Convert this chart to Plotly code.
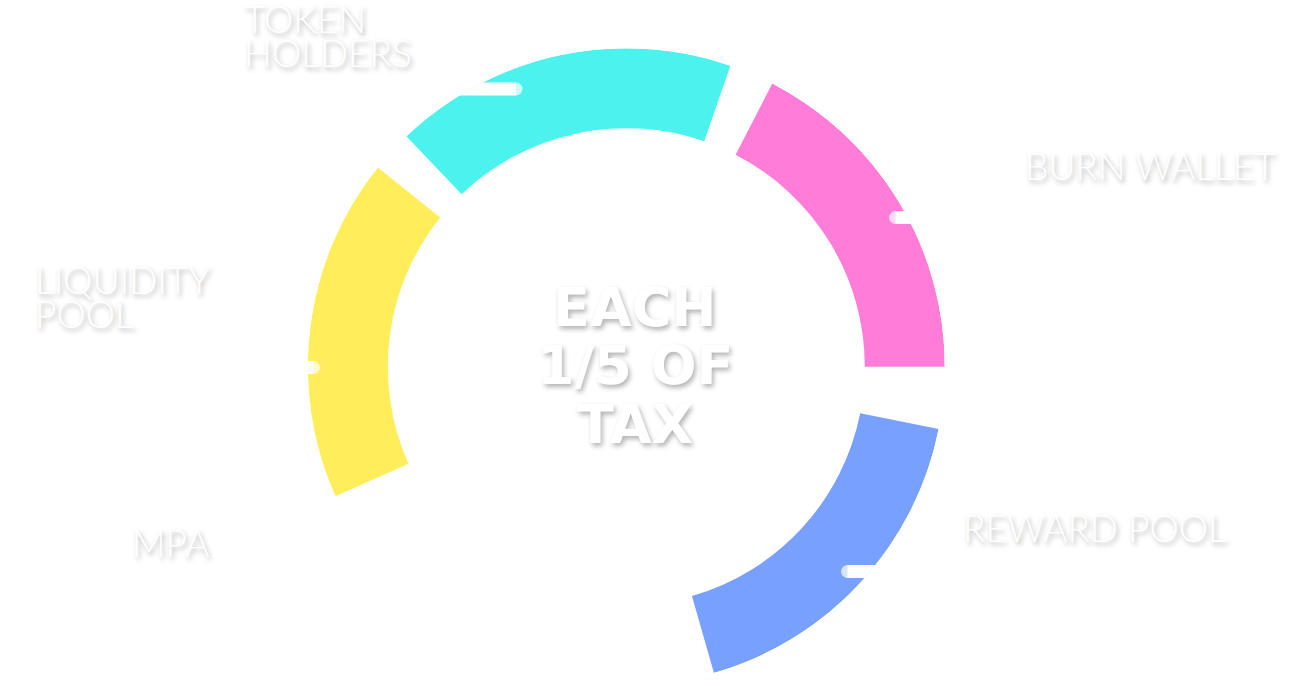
import math
import plotly.graph_objects as go

# ---------------- data ----------------
categories = ["BURN WALLET", "TOKEN HOLDERS", "LIQUIDITY POOL", "MPA", "REWARD POOL"]
shares = [20, 20, 20, 20, 20]          # each 1/5 of the tax (percent)
center_lines = ["EACH", "1/5 OF", "TAX"]

# label text split in lines as drawn
label_lines = [["BURN WALLET"], ["TOKEN", "HOLDERS"], ["LIQUIDITY", "POOL"], ["MPA"], ["REWARD POOL"]]

# ---------------- style / layout ----------------
colors = ["#FF7DD9", "#4CF3EE", "#FFEE59", "#FFFFFF", "#78A0FF"]
seg_center_deg = [31.35, 102.3, 172.65, 245.0, 317.35]
GAP_DEG = 9.25
W, H = 1292, 686
CX, CY = 626.3, 366.7          # donut centre in pixels (from top-left)
R_OUT, R_IN = 318.5, 238.5

# label anchors: left x (px), first-line cap centre y (px)
label_pos = [(1023, 165.5), (242, 18.5), (33, 279.0), (130, 542.0), (961, 527.5)]
LINE_PITCH = 34
# leader tick: cap centre y (px), cap centre x (px), direction outward (+1 right, -1 left)
ticks = [(217.5, 895.5, 1), (89.0, 516.0, -1), (367.5, 313.5, -1), (571.5, 847.5, 1)]

LABEL_FONT = "Lato"
CENTER_FONT = "DejaVu Sans"
SHADOW = "2px 3px 5px rgba(0,0,0,0.30)"

fig = go.Figure()

# ring segments
widths = [s / 100 * 360 - GAP_DEG for s in shares]
fig.add_trace(go.Barpolar(
    r=[R_OUT - R_IN] * len(shares),
    base=[R_IN] * len(shares),
    theta=seg_center_deg,
    width=widths,
    marker=dict(color=colors, line=dict(width=0)),
    text=categories,
    hoverinfo="text",
    showlegend=False,
))

# white leader ticks with rounded ends
def to_polar(x, y):
    dx, dy = x - CX, CY - y
    return math.hypot(dx, dy), math.degrees(math.atan2(dy, dx))

for (ty, tx, d) in ticks:
    dy = CY - ty
    x_far = CX + d * math.sqrt(max((R_OUT + 12) ** 2 - dy ** 2, 0))
    r1, t1 = to_polar(tx, ty)
    r2, t2 = to_polar(x_far, ty)
    fig.add_trace(go.Scatterpolar(
        r=[r1, r2], theta=[t1, t2], mode="lines+markers",
        line=dict(color="white", width=13),
        marker=dict(color="white", size=[13, 0], line=dict(width=0)),
        hoverinfo="skip", showlegend=False, cliponaxis=True,
    ))

annotations = []
for lines, (lx, ly) in zip(label_lines, label_pos):
    for i, ln in enumerate(lines):
        annotations.append(dict(
            text=ln, x=lx / W, y=1 - (ly + i * LINE_PITCH) / H,
            xref="paper", yref="paper", xanchor="left", yanchor="middle",
            showarrow=False,
            font=dict(family=LABEL_FONT, size=37, color="white", weight=300, shadow=SHADOW),
        ))

for i, ln in enumerate(center_lines):
    annotations.append(dict(
        text=ln, x=635 / W, y=1 - (307 + i * 58.5) / H,
        xref="paper", yref="paper", xanchor="center", yanchor="middle",
        showarrow=False,
        font=dict(family=CENTER_FONT, size=54, color="white", weight=700, shadow=SHADOW),
    ))

fig.update_layout(
    width=W, height=H,
    margin=dict(l=0, r=0, t=0, b=0),
    paper_bgcolor="white", plot_bgcolor="white",
    polar=dict(
        domain=dict(x=[(CX - R_OUT) / W, (CX + R_OUT) / W],
                    y=[(H - CY - R_OUT) / H, (H - CY + R_OUT) / H]),
        bgcolor="white",
        radialaxis=dict(range=[0, R_OUT], visible=False),
        angularaxis=dict(rotation=0, direction="counterclockwise", visible=False),
    ),
    annotations=annotations,
    showlegend=False,
)

fig.write_html("out.html")
